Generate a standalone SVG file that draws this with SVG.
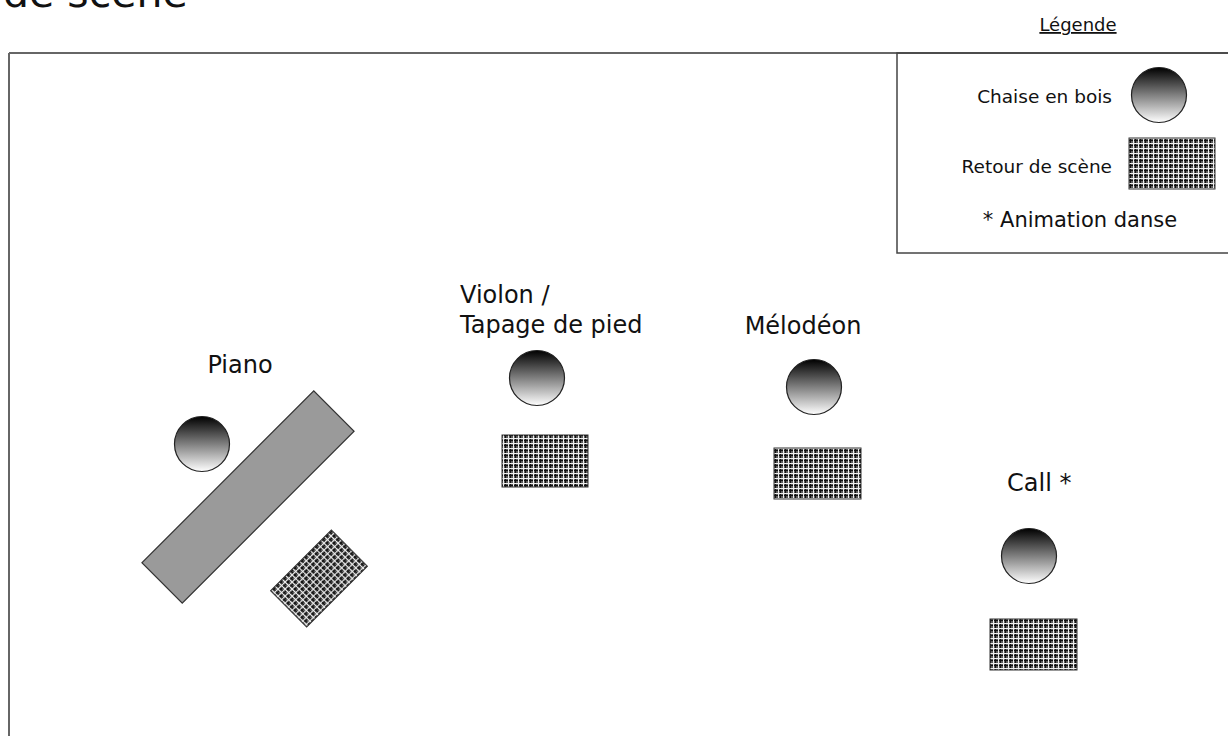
<svg xmlns="http://www.w3.org/2000/svg" width="1228" height="736" viewBox="0 0 1228 736">
<style>
text{font-family:"DejaVu Sans","Liberation Sans",sans-serif;fill:#111}
.lbl{font-size:24px}
.leg{font-size:18.5px}
.chair{fill:url(#chairGrad);stroke:#222;stroke-width:1.2}
.ret{fill:url(#hatch);stroke:#333;stroke-width:1}
.frame{fill:none;stroke:#444;stroke-width:1.5}
</style>
<defs>
<linearGradient id="chairGrad" x1="0" y1="0" x2="0" y2="1">
<stop offset="0" stop-color="#000"/>
<stop offset="1" stop-color="#fff"/>
</linearGradient>
<pattern id="hatch" width="5" height="5" patternUnits="userSpaceOnUse">
<rect width="5" height="5" fill="#5a5a5a"/>
<rect x="0" y="0" width="5" height="1" fill="#111"/>
<rect x="0" y="0" width="1" height="5" fill="#111"/>
<rect x="0" y="3" width="5" height="1" fill="#eee"/>
<rect x="3" y="0" width="1" height="5" fill="#eee"/>
</pattern>
</defs>

<text x="3" y="7" style="font-size:41px">de scène</text>

<g id="stage-frame">
<line x1="9" y1="53" x2="1228" y2="53" stroke="#333" stroke-width="1.5"/>
<line x1="9" y1="53" x2="9" y2="736" stroke="#666" stroke-width="2"/>
</g>

<g id="legend">
<text x="1078" y="31" text-anchor="middle" style="font-size:18px;text-decoration:underline">Légende</text>
<rect x="897" y="53" width="340" height="200" class="frame"/>
<text x="1112" y="103" text-anchor="end" class="leg">Chaise en bois</text>
<circle cx="1159" cy="95" r="27.5" class="chair"/>
<text x="1112" y="173" text-anchor="end" class="leg">Retour de scène</text>
<rect x="1129" y="138" width="86" height="51" class="ret"/>
<text x="1080" y="227" text-anchor="middle" style="font-size:21px">* Animation danse</text>
</g>

<g id="piano">
<text x="240" y="373" text-anchor="middle" class="lbl">Piano</text>
<circle cx="202" cy="444" r="27.5" class="chair"/>
<rect x="-121.5" y="-28.5" width="243" height="57" transform="translate(248 497) rotate(-45)" fill="#9a9a9a" stroke="#333" stroke-width="1.2"/>
<rect x="-43" y="-25.5" width="86" height="51" transform="translate(319 578.5) rotate(-45)" class="ret"/>
</g>

<g id="violon">
<text x="460" y="303" class="lbl">Violon /</text>
<text x="460" y="333" class="lbl">Tapage de pied</text>
<circle cx="537" cy="378" r="27.5" class="chair"/>
<rect x="502" y="435" width="86" height="52" class="ret"/>
</g>

<g id="melodeon">
<text x="803" y="334" text-anchor="middle" class="lbl">Mélodéon</text>
<circle cx="814" cy="387" r="27.5" class="chair"/>
<rect x="774" y="448" width="87" height="51" class="ret"/>
</g>

<g id="call">
<text x="1007" y="491" class="lbl">Call *</text>
<circle cx="1029" cy="556" r="27.5" class="chair"/>
<rect x="990" y="619" width="87" height="51" class="ret"/>
</g>

<g id="connectors"></g>
</svg>
